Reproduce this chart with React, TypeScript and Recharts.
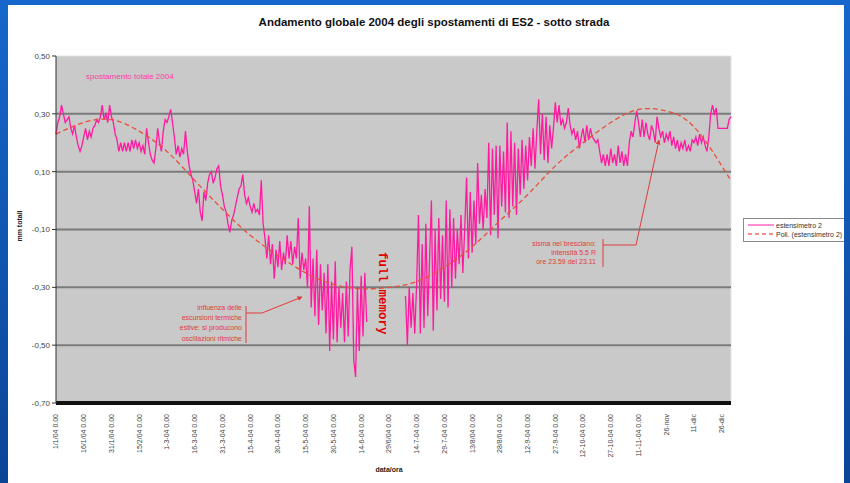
import React from 'react';
import { LineChart, Line, XAxis, YAxis, CartesianGrid, ReferenceLine } from 'recharts';

// x axis: day of year 2004 (0 = 1 Jan), one label every 15 days
const tickDays = [0, 15, 30, 45, 60, 75, 90, 105, 120, 135, 150, 165, 180, 195, 210, 225, 240, 255, 270, 285, 300, 315, 330, 345, 360];
const tickLabels = [
  '1/1/04 0.00', '16/1/04 0.00', '31/1/04 0.00', '15/2/04 0.00', '1-3-04 0.00', '16-3-04 0.00',
  '31-3-04 0.00', '15-4-04 0.00', '30-4-04 0.00', '15-5-04 0.00', '30-5-04 0.00', '14-6-04 0.00',
  '29/6/04 0.00', '14-7-04 0.00', '29-7-04 0.00', '13/8/04 0.00', '28/8/04 0.00', '12-9-04 0.00',
  '27-9-04 0.00', '12-10-04 0.00', '27-10-04 0.00', '11-11-04 0.00', '26-nov', '11-dic', '26-dic',
];
const yTicks = [-0.7, -0.5, -0.3, -0.1, 0.1, 0.3, 0.5];
const gridValues = [0.3, 0.1, -0.1, -0.3, -0.5];

// estensimetro 2, mm totali, one reading per day (null = logger memory full)
const displacement: (number | null)[] = [
  0.23, 0.27, 0.29, 0.33, 0.30, 0.27, 0.28, 0.29, 0.25, 0.23,
  0.26, 0.22, 0.19, 0.17, 0.19, 0.22, 0.25, 0.21, 0.24, 0.22,
  0.25, 0.26, 0.28, 0.27, 0.29, 0.33, 0.28, 0.30, 0.27, 0.33,
  0.29, 0.27, 0.23, 0.21, 0.17, 0.20, 0.17, 0.20, 0.17, 0.20,
  0.17, 0.21, 0.18, 0.21, 0.18, 0.20, 0.17, 0.19, 0.16, 0.25,
  0.20, 0.16, 0.14, 0.13, 0.18, 0.25, 0.20, 0.17, 0.24, 0.28,
  0.27, 0.29, 0.315, 0.27, 0.22, 0.16, 0.19, 0.15, 0.18, 0.16,
  0.24, 0.17, 0.12, 0.09, 0.07, 0.03, -0.01, 0.04, -0.04, -0.07,
  0.03, 0.00, 0.06, 0.09, 0.10, 0.06, 0.08, 0.11, 0.12, 0.05,
  0.02, -0.02, -0.04, -0.08, -0.11, -0.07, -0.05, -0.02, 0.01, 0.04,
  0.05, 0.09, 0.02, -0.01, 0.01, -0.02, -0.04, -0.01, -0.04, -0.03,
  -0.05, 0.07, -0.08, -0.13, -0.20, -0.12, -0.22, -0.15, -0.27, -0.17,
  -0.23, -0.14, -0.24, -0.18, -0.22, -0.12, -0.20, -0.14, -0.22, -0.16,
  -0.20, -0.06, -0.27, -0.18, -0.24, -0.20, -0.30, -0.02, -0.37, -0.20,
  -0.40, -0.17, -0.43, -0.22, -0.38, -0.25, -0.46, -0.22, -0.52, -0.28,
  -0.48, -0.21, -0.49, -0.30, -0.44, -0.32, -0.49, -0.28, -0.47, -0.24,
  -0.16, -0.55, -0.61, -0.30, -0.52, -0.26, -0.47, -0.25, -0.42, null,
  null, null, null, null, null, null, null, null, null, null,
  null, null, null, null, null, null, null, null, null, -0.33,
  -0.50, -0.30, -0.44, -0.32, -0.46, -0.29, -0.05, -0.46, -0.15, -0.44,
  -0.08, -0.40, -0.20, 0.00, -0.45, -0.10, -0.38, -0.06, -0.34, -0.12,
  -0.35, 0.00, -0.37, -0.03, -0.30, -0.06, -0.27, -0.10, -0.22, -0.05,
  -0.25, -0.10, 0.08, -0.20, 0.03, -0.18, 0.00, -0.15, 0.13, -0.08,
  0.02, -0.10, 0.04, -0.06, 0.20, -0.12, 0.18, -0.05, 0.19, -0.13,
  0.19, -0.02, 0.17, -0.04, 0.27, -0.06, 0.24, -0.02, 0.20, -0.05,
  0.18, 0.02, 0.21, 0.04, 0.19, 0.07, 0.22, 0.12, 0.25, 0.11,
  0.24, 0.35, 0.16, 0.30, 0.14, 0.29, 0.13, 0.26, 0.18, 0.25,
  0.34, 0.27, 0.33, 0.26, 0.28, 0.25, 0.27, 0.32, 0.26, 0.23,
  0.25, 0.21, 0.24, 0.18, 0.22, 0.25, 0.20, 0.26, 0.21, 0.25,
  0.22, 0.21, 0.20, 0.21, 0.17, 0.13, 0.16, 0.12, 0.16, 0.12,
  0.18, 0.13, 0.16, 0.12, 0.19, 0.13, 0.17, 0.12, 0.16, 0.12,
  0.20, 0.24, 0.22, 0.27, 0.31, 0.27, 0.22, 0.28, 0.22, 0.27,
  0.23, 0.21, 0.26, 0.24, 0.20, 0.29, 0.25, 0.22, 0.24, 0.20,
  0.23, 0.21, 0.24, 0.19, 0.22, 0.18, 0.21, 0.17, 0.20, 0.18,
  0.21, 0.17, 0.19, 0.17, 0.21, 0.20, 0.22, 0.19, 0.23, 0.20,
  0.22, 0.19, 0.17, 0.22, 0.30, 0.33, 0.30, 0.32, 0.25, 0.25,
  0.25, 0.25, 0.25, 0.25, 0.28, 0.29,
];

// polynomial trend ("Poli."), read every 15 days
const trendDays = [0, 15, 30, 45, 60, 75, 90, 105, 120, 135, 150, 165, 180, 195, 210, 225, 240, 255, 270, 285, 300, 315, 330, 345, 360, 365];
const trendValues = [
  0.23, 0.27, 0.28, 0.24, 0.17, 0.07, -0.03, -0.12, -0.19, -0.25, -0.29, -0.305, -0.30,
  -0.28, -0.23, -0.16, -0.07, 0.02, 0.12, 0.20, 0.27, 0.315, 0.31, 0.255, 0.12, 0.07,
];

const es2Rows = displacement.map((v, i) => ({ day: i, es2: v }));
const trendRows = trendDays.map((d, i) => ({ day: d, trend: trendValues[i] }));

const FONT = '"Liberation Sans", Arial, sans-serif';
const PINK = '#ff1aa0';
const TREND = '#e8503a';
const NOTE = '#e23b3b';

function DateTick({ x, y, payload }: any) {
  const label = tickLabels[tickDays.indexOf(payload.value)] ?? '';
  const ty = y + 3;
  return (
    <text
      x={x}
      y={ty}
      dy="0.35em"
      transform={`rotate(-90 ${x} ${ty})`}
      textAnchor="end"
      fontSize={7}
      fontFamily={FONT}
      fill="#444"
    >
      {label}
    </text>
  );
}

function Notes() {
  return (
    <svg width={850} height={483} style={{ position: 'absolute', left: 0, top: 0, pointerEvents: 'none' }}>
      <defs>
        <marker id="head" viewBox="0 0 10 10" refX="9" refY="5" markerWidth="5" markerHeight="5" orient="auto">
          <path d="M0,0 L10,5 L0,10 z" fill={NOTE} />
        </marker>
      </defs>
      <text x={434} y={26} textAnchor="middle" fontSize={11.5} fontWeight="bold" fontFamily={FONT} fill="#111">
        Andamento globale 2004 degli spostamenti di ES2 - sotto strada
      </text>
      <text x={86} y={79} fontSize={8} fontFamily={FONT} fill="#ff3aa8">
        spostamento totale  2004
      </text>
      <text
        x={22}
        y={226}
        transform="rotate(-90 22 226)"
        textAnchor="middle"
        fontSize={7}
        fontWeight="bold"
        fontFamily={FONT}
        fill="#222"
      >
        mm totali
      </text>
      <text x={389} y={472} textAnchor="middle" fontSize={7} fontWeight="bold" fontFamily={FONT} fill="#222">
        data/ora
      </text>

      {/* summer oscillations note */}
      <g fontSize={7} fontFamily={FONT} fill={NOTE} textAnchor="end">
        <text x={242} y={310}>influenza delle</text>
        <text x={242} y={320}>escursioni termiche</text>
        <text x={242} y={330}>estive: si producono</text>
        <text x={242} y={341}>oscillazioni ritmiche</text>
      </g>
      <path d="M246,306 L246,343 M246,313 L262,313" stroke={NOTE} strokeWidth={1} fill="none" />
      <line x1={262} y1={313} x2={302} y2={297} stroke={NOTE} strokeWidth={1} markerEnd="url(#head)" />

      <text
        x={379}
        y={252}
        transform="rotate(90 379 252)"
        fontSize={12.5}
        fontWeight="bold"
        fontFamily='"Liberation Mono", "DejaVu Sans Mono", monospace'
        fill="#e00000"
      >
        full memory
      </text>

      {/* earthquake note */}
      <g fontSize={7} fontFamily={FONT} fill={NOTE} textAnchor="end">
        <text x={596} y={246}>sisma nel bresciano:</text>
        <text x={596} y={255}>intensità 5.5 R</text>
        <text x={596} y={264}>ore 23.59 del 23.11</text>
      </g>
      <path d="M603,239 L603,267 M603,245 L636,245" stroke={NOTE} strokeWidth={1} fill="none" />
      <line x1={636} y1={245} x2={659} y2={140} stroke={NOTE} strokeWidth={1} markerEnd="url(#head)" />
    </svg>
  );
}

function LegendBox() {
  return (
    <div
      style={{
        position: 'absolute',
        left: 735,
        top: 213,
        width: 120,
        height: 22,
        border: '1px solid #8a8a8a',
        background: '#fff',
      }}
    >
      <svg width={120} height={22} style={{ position: 'absolute', left: 0, top: 0 }}>
        <line x1={4} y1={6} x2={30} y2={6} stroke="#ff8fd0" strokeWidth={2} />
        <line x1={4} y1={15} x2={30} y2={15} stroke="#f06a6a" strokeWidth={1.5} strokeDasharray="4 3" />
        <text x={32} y={8.5} fontSize={7} fontFamily={FONT} fill="#333">estensimetro 2</text>
        <text x={32} y={17.5} fontSize={7} fontFamily={FONT} fill="#333">Poli. (estensimetro 2)</text>
      </svg>
    </div>
  );
}

export default function App() {
  return (
    <div
      style={{
        position: 'fixed',
        left: 0,
        top: 0,
        width: 850,
        height: 483,
        overflow: 'hidden',
        background: 'linear-gradient(180deg, #1667cc 0%, #0b4596 100%)',
      }}
    >
      <div style={{ position: 'absolute', left: 8, top: 5, width: 836, height: 478, background: '#fff', overflow: 'hidden' }}>
        <LegendBox />
      </div>
      <div style={{ position: 'absolute', left: 0, top: 0 }}>
        <LineChart width={850} height={483} margin={{ top: 56, right: 119, bottom: 0, left: 0 }}>
          <CartesianGrid horizontal={false} vertical={false} fill="#c9c9c9" fillOpacity={1} />
          <XAxis
            dataKey="day"
            type="number"
            domain={[0, 365]}
            ticks={tickDays}
            interval={0}
            height={80}
            tick={<DateTick />}
            tickLine={false}
            axisLine={{ stroke: '#111', strokeWidth: 4 }}
            allowDuplicatedCategory={false}
          />
          <YAxis
            type="number"
            domain={[-0.7, 0.5]}
            ticks={yTicks}
            interval={0}
            width={56}
            tickSize={4}
            tickLine={{ stroke: '#333' }}
            axisLine={{ stroke: '#333' }}
            tick={{ fontSize: 8, fontFamily: FONT, fill: '#444' }}
            tickFormatter={(v: number) => v.toFixed(2).replace('.', ',')}
          />
          <ReferenceLine y={0.5} stroke="#e4e4e4" strokeWidth={1} />
          <ReferenceLine x={365} stroke="#e4e4e4" strokeWidth={1} />
          {gridValues.map((v) => (
            <ReferenceLine key={v} y={v} stroke="#7b7b7b" strokeWidth={2} />
          ))}
          <Line
            data={es2Rows}
            dataKey="es2"
            type="linear"
            stroke={PINK}
            strokeWidth={1.3}
            dot={false}
            connectNulls={false}
            isAnimationActive={false}
          />
          <Line
            data={trendRows}
            dataKey="trend"
            type="natural"
            stroke={TREND}
            strokeWidth={1.3}
            strokeDasharray="5 3"
            dot={false}
            isAnimationActive={false}
          />
        </LineChart>
      </div>
      <Notes />
    </div>
  );
}
